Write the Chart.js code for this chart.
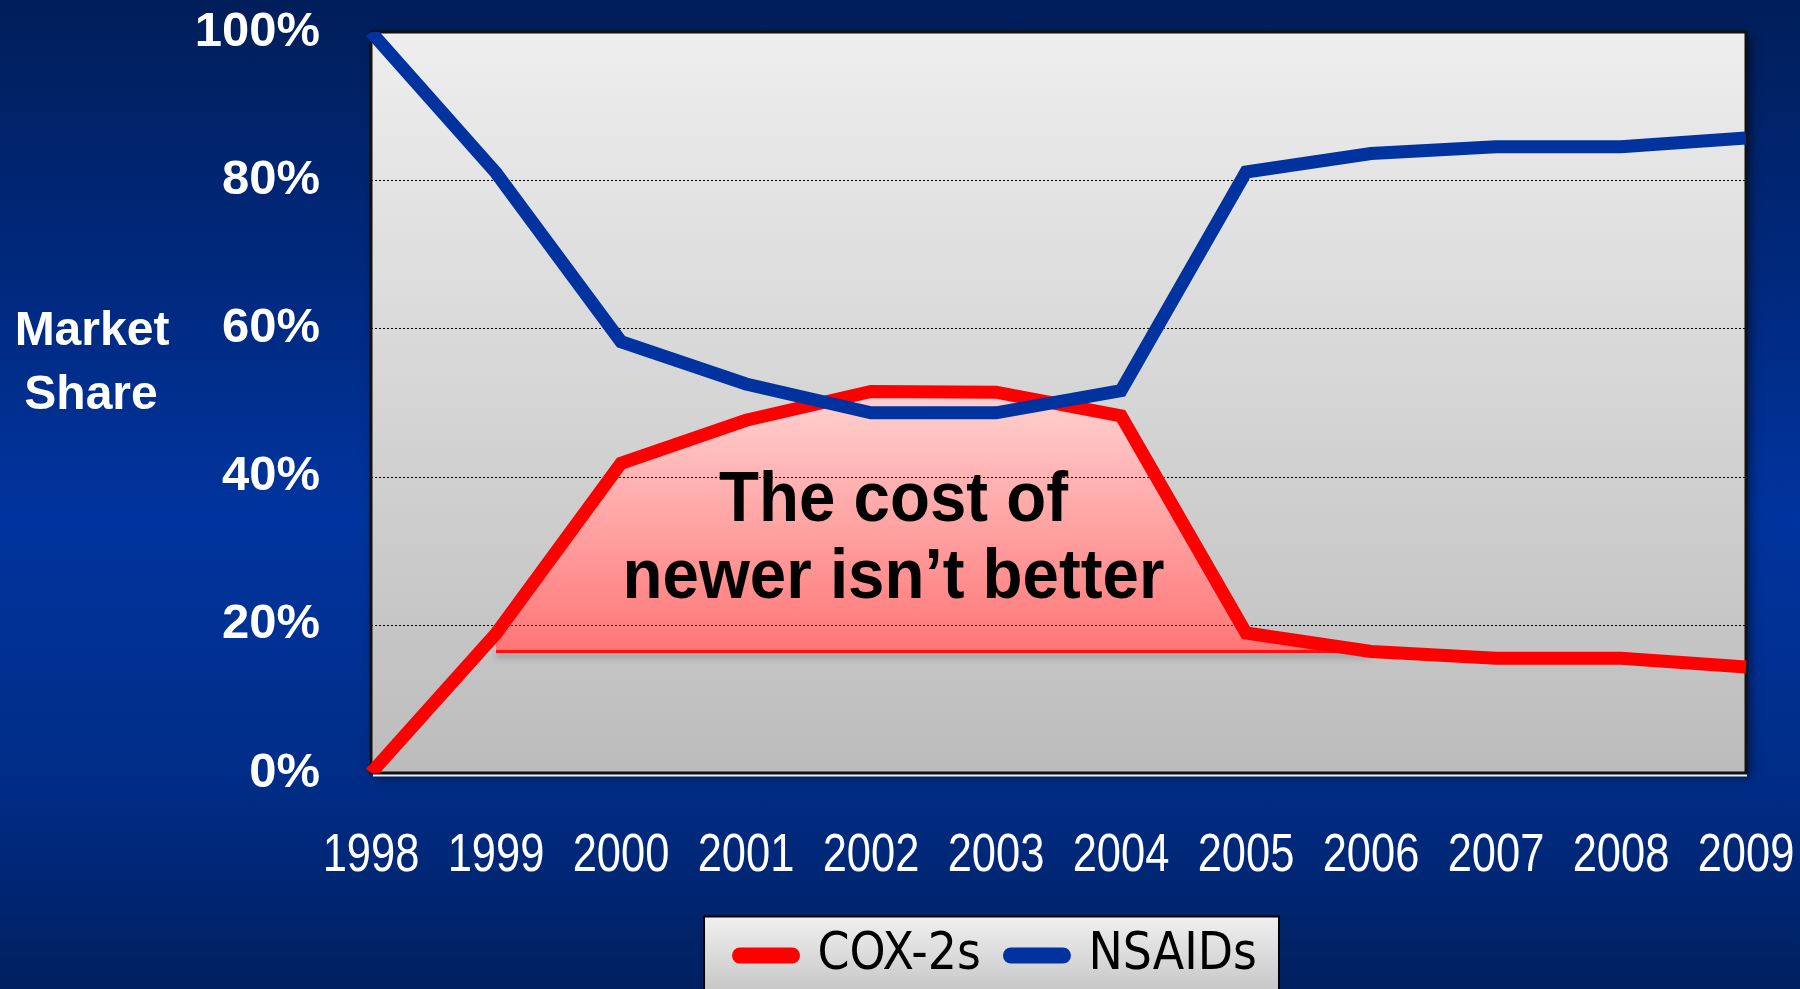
<!DOCTYPE html>
<html>
<head>
<meta charset="utf-8">
<title>COX-2s vs NSAIDs market share</title>
<script src="https://cdn.jsdelivr.net/npm/chart.js@4/dist/chart.umd.min.js"></script>
<style>
  html, body { margin: 0; padding: 0; }
  body {
    width: 1800px;
    height: 989px;
    overflow: hidden;
    background: linear-gradient(to bottom, #001e5a 0%, #002a80 30%, #00349e 52%, #002d88 78%, #00205f 100%);
  }
  canvas { display: block; }
</style>
</head>
<body>
<canvas id="shareChart" width="1800" height="989"></canvas>
<script>
// market share by year, percent
const years = ['1998', '1999', '2000', '2001', '2002', '2003', '2004', '2005', '2006', '2007', '2008', '2009'];
const cox2Share = [0, 18.8, 41.8, 47.6, 51.5, 51.4, 48.2, 18.9, 16.4, 15.5, 15.5, 14.3];
const nsaidShare = [100, 81.0, 58.2, 52.5, 48.6, 48.6, 51.6, 81.1, 83.6, 84.5, 84.5, 85.7];
// floor of the shaded "cost" band under the COX-2 hump
const shadeFloor = [null, 16.4, 16.4, 16.4, 16.4, 16.4, 16.4, 16.4, 16.4, null, null, null];
const shareTicks = [0, 20, 40, 60, 80, 100];

const noteLines = ['The cost of', 'newer isn\u2019t better'];
const axisCaption = ['Market', 'Share'];

const sansFont = '"Liberation Sans", Arial, sans-serif';

function bandGradient(context) {
    const chart = context.chart;
    const y = chart.scales.y;
    if (!chart.chartArea || !y) {
        return 'rgba(255, 140, 140, 0.9)';
    }
    const g = chart.ctx.createLinearGradient(0, y.getPixelForValue(52), 0, y.getPixelForValue(16.4));
    g.addColorStop(0, '#ffd3d3');
    g.addColorStop(1, '#ff7676');
    return g;
}

// draws text squeezed horizontally (no narrow face is installed)
function squeezedText(ctx, text, x, y, sx) {
    ctx.save();
    ctx.translate(x, y);
    ctx.scale(sx, 1);
    ctx.fillText(text, 0, 0);
    ctx.restore();
}

const panels = {
    id: 'panels',
    beforeDraw(chart) {
        const { ctx, chartArea: a } = chart;
        ctx.save();
        // plot panel with drop shadow
        ctx.shadowColor = 'rgba(0, 0, 0, 0.55)';
        ctx.shadowBlur = 10;
        ctx.shadowOffsetX = 4;
        ctx.shadowOffsetY = 4;
        const g = ctx.createLinearGradient(0, a.top, 0, a.bottom);
        g.addColorStop(0, '#eeeeee');
        g.addColorStop(1, '#bcbcbc');
        ctx.fillStyle = g;
        ctx.fillRect(a.left, a.top, a.width, a.height);
        ctx.restore();

        // legend panel
        const boxes = chart.legend.legendHitBoxes;
        if (boxes && boxes.length) {
            const first = boxes[0];
            const last = boxes[boxes.length - 1];
            const left = first.left - 36;
            const right = last.left + last.width + 22;
            const top = first.top + first.height / 2 - 39;
            const bottom = chart.height + 4;
            ctx.save();
            const lg = ctx.createLinearGradient(0, top, 0, bottom);
            lg.addColorStop(0, '#f0f0f0');
            lg.addColorStop(1, '#c6c6c6');
            ctx.fillStyle = lg;
            ctx.fillRect(left, top, right - left, bottom - top);
            ctx.strokeStyle = '#000';
            ctx.lineWidth = 2;
            ctx.strokeRect(left, top, right - left, bottom - top);
            ctx.restore();
        }
    },
    beforeDatasetsDraw(chart) {
        const { ctx, chartArea: a, scales: { y } } = chart;
        ctx.save();
        // dotted guides, drawn over the shaded band
        ctx.strokeStyle = '#000';
        ctx.lineWidth = 1;
        ctx.setLineDash([2, 2]);
        y.ticks.forEach(t => {
            if (t.value <= y.min || t.value >= y.max) return;
            const py = Math.round(y.getPixelForValue(t.value)) + 0.5;
            ctx.beginPath();
            ctx.moveTo(a.left, py);
            ctx.lineTo(a.right, py);
            ctx.stroke();
        });
        ctx.setLineDash([]);
        // frame
        ctx.strokeStyle = '#111';
        ctx.lineWidth = 3;
        ctx.strokeRect(a.left, a.top, a.width, a.height);
        ctx.strokeStyle = '#f2f2f2';
        ctx.lineWidth = 2;
        ctx.beginPath();
        ctx.moveTo(a.left + 2, a.bottom + 2.5);
        ctx.lineTo(a.right + 1, a.bottom + 2.5);
        ctx.stroke();
        ctx.restore();
    },
    beforeDatasetDraw(chart, args) {
        // soft shadow under the band floor
        if (args.index !== 0) return;
        const ctx = chart.ctx;
        ctx.save();
        ctx.shadowColor = 'rgba(0, 0, 0, 0.35)';
        ctx.shadowBlur = 6;
        ctx.shadowOffsetY = 4;
    },
    afterDatasetDraw(chart, args) {
        if (args.index !== 0) return;
        chart.ctx.restore();
    },
    afterDraw(chart) {
        const { ctx, chartArea: a, scales: { x, y } } = chart;
        ctx.save();
        ctx.textAlign = 'center';

        // note inside the band
        ctx.fillStyle = '#000';
        ctx.textBaseline = 'alphabetic';
        ctx.font = 'bold 70px ' + sansFont;
        const cx = x.getPixelForValue(4.18);
        const baselines = [34.05, 23.65];
        noteLines.forEach((text, i) => {
            squeezedText(ctx, text, cx, y.getPixelForValue(baselines[i]), 0.935);
        });

        // year labels, condensed
        ctx.fillStyle = '#fff';
        ctx.textBaseline = 'middle';
        ctx.font = '53px ' + sansFont;
        years.forEach((label, i) => {
            squeezedText(ctx, label, x.getPixelForValue(i), a.bottom + 83, 0.82);
        });

        ctx.textBaseline = 'alphabetic';
        ctx.font = 'bold 48px ' + sansFont;
        ctx.fillText(axisCaption[0], 92, 345);
        ctx.fillText(axisCaption[1], 91, 409);
        ctx.restore();
    }
};

const ctx = document.getElementById('shareChart').getContext('2d');
new Chart(ctx, {
    type: 'line',
    data: {
        labels: years,
        datasets: [{
            label: 'floor',
            data: shadeFloor,
            borderColor: '#ff1010',
            borderWidth: 3,
            pointRadius: 0,
            fill: false,
            order: 3
        }, {
            label: 'COX-2s',
            data: cox2Share,
            borderColor: '#ff0000',
            backgroundColor: bandGradient,
            borderWidth: 13,
            borderJoinStyle: 'miter',
            pointRadius: 0,
            fill: { target: 0, below: 'rgba(0, 0, 0, 0)' },
            order: 2
        }, {
            label: 'NSAIDs',
            data: nsaidShare,
            borderColor: '#0033a0',
            backgroundColor: '#0033a0',
            borderWidth: 13,
            borderJoinStyle: 'miter',
            pointRadius: 0,
            fill: false,
            order: 1
        }]
    },
    options: {
        responsive: false,
        animation: false,
        events: [],
        devicePixelRatio: 1,
        layout: {
            padding: { left: 180, right: -17, top: 32, bottom: -2 }
        },
        elements: {
            line: { tension: 0 }
        },
        scales: {
            x: {
                grid: { display: false },
                border: { display: false },
                ticks: { display: false },
                afterFit(scale) {
                    scale.height = 127;
                    scale.paddingLeft = 0;
                    scale.paddingRight = 54;
                }
            },
            y: {
                min: 0,
                max: 100,
                grid: { display: false },
                border: { display: false },
                afterBuildTicks(scale) {
                    scale.ticks = shareTicks.map(v => ({ value: v }));
                },
                ticks: {
                    color: '#fff',
                    font: { family: sansFont, size: 49, weight: 'bold' },
                    padding: 43,
                    callback: v => v + '%'
                },
                afterFit(scale) {
                    scale.width = 191;
                    scale.paddingTop = 0;
                    scale.paddingBottom = 0;
                }
            }
        },
        plugins: {
            filler: { drawTime: 'beforeDatasetsDraw' },
            tooltip: { enabled: false },
            legend: {
                position: 'bottom',
                labels: {
                    usePointStyle: true,
                    pointStyleWidth: 52,
                    padding: 30,
                    color: '#000',
                    font: { family: '"DejaVu Sans Condensed", "DejaVu Sans", sans-serif', size: 51 },
                    generateLabels(chart) {
                        return Chart.defaults.plugins.legend.labels.generateLabels(chart).map(item =>
                            Object.assign(item, { pointStyle: 'line', lineWidth: 16, lineCap: 'round' }));
                    },
                    filter: item => item.datasetIndex !== 0,
                    sort: (a, b) => a.datasetIndex - b.datasetIndex
                }
            }
        }
    },
    plugins: [panels]
});
</script>
</body>
</html>
